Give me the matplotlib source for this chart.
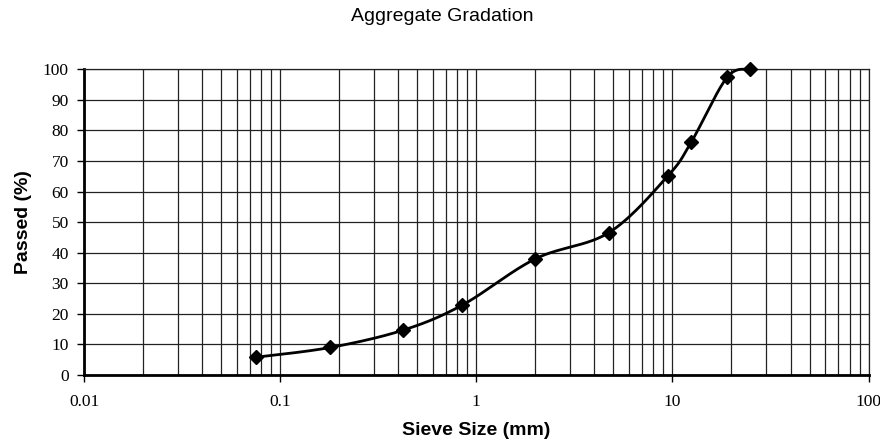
import numpy as np
import matplotlib
matplotlib.use("Agg")
import matplotlib.pyplot as plt
from matplotlib.ticker import LogLocator, NullFormatter, FixedLocator

# sieve data
sieve_mm = [0.075, 0.18, 0.425, 0.85, 2.0, 4.75, 9.5, 12.5, 19.0, 25.0]
passed = [5.8, 9.0, 14.7, 22.9, 38.0, 46.6, 65.2, 76.3, 97.4, 100.0]
x_ticks = [0.01, 0.1, 1, 10, 100]
x_tick_labels = ["0.01", "0.1", "1", "10", "100"]
y_ticks = list(range(0, 101, 10))

fig = plt.figure(figsize=(8.8, 4.43), dpi=100)
ax = fig.add_axes([0.0955, 0.1535, 0.8915, 0.690])

ax.set_xscale("log")
ax.set_xlim(0.01, 100)
ax.set_ylim(0, 100)

# grid
ax.xaxis.set_major_locator(FixedLocator(x_ticks))
ax.xaxis.set_minor_locator(LogLocator(base=10, subs=np.arange(2, 10)))
ax.xaxis.set_minor_formatter(NullFormatter())
ax.set_xticks(x_ticks)
ax.set_xticklabels(x_tick_labels)
ax.set_yticks(y_ticks)
ax.grid(True, which="major", color="#222222", linewidth=0.9)
ax.grid(True, which="minor", axis="x", color="#222222", linewidth=0.9)
ax.tick_params(axis="x", which="minor", length=0)
ax.tick_params(axis="both", which="major", direction="out", length=5, width=1,
               labelsize=12.5, pad=6)
ax.tick_params(axis="x", which="major", pad=9)
for lab in ax.get_xticklabels() + ax.get_yticklabels():
    lab.set_fontfamily("Liberation Serif")

for s in ["top", "right"]:
    ax.spines[s].set_linewidth(0.9)
    ax.spines[s].set_color("#222222")
for s in ["left", "bottom"]:
    ax.spines[s].set_linewidth(2)

# smoothed line (Catmull-Rom in screen space, like Excel)
fig.canvas.draw()
pts = ax.transData.transform(np.column_stack([sieve_mm, passed]))
curve = []
n = len(pts)
for i in range(n - 1):
    p0 = pts[i - 1] if i > 0 else pts[i]
    p1 = pts[i]
    p2 = pts[i + 1]
    p3 = pts[i + 2] if i + 2 < n else pts[i + 1]
    c1 = p1 + (p2 - p0) / 6.0
    c2 = p2 - (p3 - p1) / 6.0
    t = np.linspace(0, 1, 30)[:, None]
    seg = ((1 - t) ** 3) * p1 + 3 * ((1 - t) ** 2) * t * c1 + 3 * (1 - t) * t ** 2 * c2 + t ** 3 * p2
    curve.append(seg if i == 0 else seg[1:])
curve = np.vstack(curve)
curve_data = ax.transData.inverted().transform(curve)
ax.plot(curve_data[:, 0], curve_data[:, 1], color="black", linewidth=2, zorder=3,
        clip_on=False)
ax.plot(sieve_mm, passed, linestyle="none", marker="D", markersize=7.5,
        color="black", zorder=4, clip_on=False)

ax.set_xlabel("Sieve Size (mm)", fontsize=14, fontweight="bold",
              fontfamily="Liberation Sans", labelpad=8)
ax.set_ylabel("Passed (%)", fontsize=14, fontweight="bold",
              fontfamily="Liberation Sans", labelpad=8)
fig.text(0.503, 0.963, "Aggregate Gradation", ha="center", va="center",
         fontsize=14, fontfamily="Liberation Sans")

fig.savefig("out.png", dpi=100)
